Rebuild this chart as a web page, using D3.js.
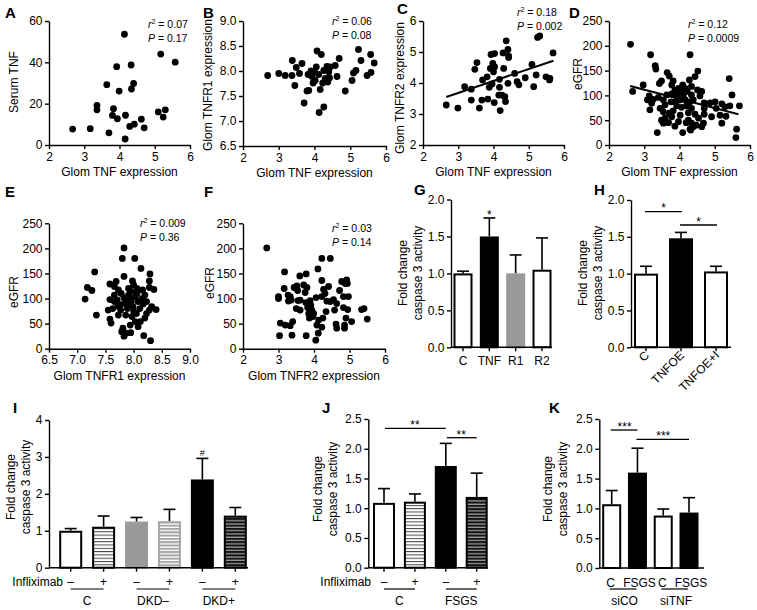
<!DOCTYPE html>
<html><head><meta charset="utf-8">
<script src="https://cdn.jsdelivr.net/npm/d3@7"></script>
<style>body{margin:0;background:#fff}svg text{font-family:"Liberation Sans",Arial,Helvetica,sans-serif;fill:#000}</style>
</head><body><svg id="c" width="757" height="610"></svg>
<script>
// ---------- DATA ----------
const ptsA = [[4.14,53.6],[5.17,44],[5.58,40.1],[3.92,37.9],[4.33,38.7],[4.40,29.8],[3.64,29.2],[3.99,26.1],[4.34,27.1],[3.36,19.2],[3.36,17.0],[3.83,17.6],[3.80,14.3],[3.94,12.7],[4.17,14.4],[4.62,12.5],[4.42,10.1],[4.29,9.0],[4.70,8.3],[5.10,16.0],[5.30,17.0],[5.24,13.5],[2.67,7.7],[3.17,7.9],[3.70,5.9],[4.16,2.9]];
const ptsB = [[2.69,7.91],[3.0,7.95],[3.18,7.91],[3.38,8.21],[3.37,7.91],[3.49,8.07],[3.45,7.71],[3.65,8.15],[3.58,7.95],[3.79,7.6],[3.84,7.61],[3.71,7.36],[3.82,7.93],[3.9,8.0],[3.93,7.89],[4.0,7.98],[4.02,7.81],[4.07,8.4],[4.19,8.33],[4.12,7.93],[4.23,7.76],[4.16,7.63],[4.26,8.01],[4.30,7.85],[4.35,8.09],[4.40,7.98],[4.37,7.78],[4.42,7.86],[4.26,7.28],[4.13,7.17],[4.44,8.08],[4.58,8.11],[4.69,8.25],[4.63,7.89],[4.86,7.6],[5.05,7.81],[5.09,7.96],[5.16,8.01],[5.23,8.43],[5.3,8.21],[5.47,7.91],[5.58,7.97],[5.57,8.33],[5.67,8.16],[3.96,7.76],[4.05,8.08]];
const ptsC = [[2.66,3.29],[2.99,3.19],[3.18,3.88],[3.37,3.80],[3.37,3.45],[3.53,4.66],[3.47,4.44],[3.67,3.45],[3.60,3.19],[3.69,4.10],[3.82,4.20],[3.84,3.48],[3.91,4.47],[3.93,4.92],[4.03,4.95],[3.98,4.63],[4.0,4.36],[4.03,4.52],[3.96,3.97],[4.02,3.37],[4.17,4.12],[4.17,3.86],[4.15,3.61],[4.19,3.11],[4.29,4.47],[4.27,4.97],[4.36,5.36],[4.41,5.08],[4.43,4.87],[4.43,4.82],[4.32,3.56],[4.34,3.40],[4.24,3.61],[4.41,3.99],[4.6,4.31],[4.67,4.04],[4.72,3.94],[4.90,4.17],[5.09,4.6],[5.14,3.88],[5.21,4.26],[5.25,5.47],[5.31,5.52],[5.49,4.2],[5.59,4.1],[5.6,4.15],[5.69,4.97],[3.88,3.86]];
const ptsD = [[2.61,203],[3.18,182],[4.30,182],[3.31,160],[3.33,153],[2.67,108],[2.97,121],[3.43,124],[3.49,129],[3.65,146],[3.71,139],[3.82,129],[3.78,121],[4.52,149],[4.44,138],[4.28,131],[4.09,121],[3.97,114],[3.87,110],[4.02,108],[4.16,114],[4.34,118],[4.22,108],[4.51,111],[4.63,108],[4.58,99],[4.34,101],[4.11,101],[3.92,99],[3.78,103],[3.64,101],[3.54,91],[3.40,96],[3.26,92],[3.14,99],[3.09,91],[3.21,84],[3.16,71],[3.45,74],[3.59,81],[3.76,87],[3.87,87],[4.02,91],[4.16,91],[4.30,87],[4.39,91],[3.92,79],[4.06,76],[4.20,79],[4.34,74],[3.54,67],[3.71,64],[3.82,69],[4.02,60],[4.25,65],[4.44,62],[4.70,85],[4.70,74],[4.87,85],[5.01,87],[5.20,83],[5.29,77],[5.04,74],[5.43,79],[5.41,134],[5.49,101],[5.70,79],[5.62,32],[5.60,15],[5.15,60],[5.32,58],[4.91,57],[4.70,62],[4.54,54],[5.20,44],[4.47,40],[4.63,37],[4.25,50],[4.19,45],[4.34,44],[4.39,37],[4.30,32],[4.09,25],[4.32,30],[3.37,25],[3.49,50],[3.59,54],[3.54,44],[3.78,57],[3.69,45],[3.87,38],[3.97,47],[4.68,44]];
const ptsE = [[7.83,201],[7.80,180],[8.02,180],[8.13,160],[7.31,153],[8.29,149],[8.28,135],[8.28,122],[8.36,118],[7.18,122],[7.26,116],[7.14,99],[7.34,67],[7.58,129],[7.69,134],[7.66,124],[7.83,144],[7.98,135],[8.0,127],[7.91,120],[8.06,120],[8.16,117],[7.95,114],[7.78,110],[7.66,107],[7.58,98],[7.71,97],[7.83,102],[7.91,107],[8.03,104],[8.15,100],[8.20,107],[8.23,94],[8.32,84],[8.40,78],[8.28,77],[8.17,89],[8.08,94],[7.96,94],[7.84,90],[7.72,85],[7.63,80],[7.77,77],[7.89,80],[7.99,84],[8.11,80],[8.23,70],[8.20,61],[8.05,70],[7.97,64],[7.86,67],[7.73,67],[7.58,59],[7.60,51],[8.12,54],[8.03,54],[7.94,47],[7.81,41],[7.87,31],[7.83,25],[7.95,32],[8.18,26],[8.30,16],[8.08,44],[7.79,34],[7.90,90],[7.73,117],[7.55,77],[7.66,94],[8.06,110],[7.85,95],[7.95,100],[7.76,88],[8.0,75]];
const ptsF = [[2.67,201],[3.0,100],[3.0,104],[3.17,153],[3.16,120],[3.03,26],[3.05,51],[3.19,47],[3.33,46],[3.38,27],[3.40,54],[3.27,107],[3.33,104],[3.28,95],[3.36,97],[3.44,122],[3.52,125],[3.54,116],[3.60,145],[3.55,96],[3.61,97],[3.50,80],[3.61,77],[3.71,127],[3.80,122],[3.78,149],[3.75,112],[3.77,92],[3.82,82],[3.89,96],[3.85,70],[3.87,61],[3.91,87],[3.94,77],[3.99,70],[3.97,64],[3.78,26],[4.05,17],[4.12,31],[4.06,102],[4.22,104],[4.11,159],[4.22,180],[4.46,180],[4.22,136],[4.27,118],[4.31,110],[4.41,124],[4.36,95],[4.34,74],[4.22,43],[4.25,61],[4.46,94],[4.55,98],[4.64,90],[4.58,77],[4.62,49],[4.64,41],[4.72,116],[4.78,134],[4.88,130],[4.92,137],[4.94,130],[4.83,104],[4.97,104],[4.83,82],[4.95,78],[4.90,61],[4.86,47],[4.86,41],[5.06,54],[5.34,78],[5.41,80],[5.50,59],[4.08,47],[4.13,57]];
const fitC = [[2.66,3.55],[5.7,4.72]];
const fitD = [[2.6,119],[5.67,62]];
const statsA = ["0.07","0.17"], statsB = ["0.06","0.08"], statsC = ["0.18","0.002"], statsD = ["0.12","0.0009"], statsE = ["0.009","0.36"], statsF = ["0.03","0.14"];
const ticksTNF = [2,3,4,5,6];
const ticksA_y = [0,20,40,60];
const ticksB_y = [6.5,7.0,7.5,8.0,8.5,9.0];
const ticksC_y = [2,3,4,5,6];
const ticksEGFR = [0,50,100,150,200,250];
const ticksE_x = [6.5,7.0,7.5,8.0,8.5,9.0];

const catsG = ["C","TNF","R1","R2"], valsG = [1.0,1.5,1.0,1.05], semG = [0.03,0.25,0.25,0.43];
const catsH = ["C","TNFOE","TNFOE+I"], valsH = [1.0,1.48,1.03], semH = [0.1,0.08,0.07];
const catsI = ["C-","C+","DKD--","DKD-+","DKD+-","DKD++"], valsI = [1.0,1.11,1.25,1.26,2.39,1.41], semI = [0.06,0.29,0.11,0.32,0.57,0.22];
const catsJ = ["C-","C+","FSGS-","FSGS+"], valsJ = [1.09,1.11,1.71,1.19], semJ = [0.24,0.13,0.38,0.40];
const catsK = ["siCO C","siCO FSGS","siTNF C","siTNF FSGS"], valsK = [1.07,1.60,0.88,0.93], semK = [0.23,0.41,0.11,0.25];
const ticks2 = [0,0.5,1.0,1.5,2.0], ticks25 = [0,0.5,1.0,1.5,2.0,2.5], ticks4 = [0,1,2,3,4];
const infl = ["\u2013","+"];
const groupsI = ["C","DKD\u2013","DKD+"], groupsJ = ["C","FSGS"], groupsK = ["siCO","siTNF"];
const xlabK = ["C","FSGS","C","FSGS"];

// ---------- DRAW ----------
const svg = d3.select("#c");
const FONT = '"Liberation Sans",Arial,Helvetica,sans-serif';
const defs = svg.append("defs");
function stripe(id, bg, fg, h, lw){
  const p = defs.append("pattern").attr("id",id).attr("patternUnits","userSpaceOnUse").attr("width",6).attr("height",h);
  p.append("rect").attr("width",6).attr("height",h).attr("fill",bg);
  p.append("rect").attr("y",0).attr("width",6).attr("height",lw).attr("fill",fg);
}
stripe("stW","#fff","#444",3.3,1);
stripe("stG","#fff","#a6a6a6",3.3,2);
stripe("stB","#999","#111",3.3,2);

function styleAxis(g){
  g.selectAll("path,line").attr("stroke","#000").attr("stroke-width",1.4);
  g.selectAll("text").attr("font-size",12).attr("font-family",FONT).attr("fill","#000");
}
function letter(t,x,y){ svg.append("text").attr("x",x).attr("y",y).attr("font-size",15).attr("font-weight","bold").attr("font-family",'"Liberation Sans",Arial,sans-serif').text(t); }
function stat(x,y,s){
  const t1 = svg.append("text").attr("x",x).attr("y",y).attr("font-size",10.5);
  t1.append("tspan").attr("font-style","italic").text("r");
  t1.append("tspan").attr("dy",-4).attr("font-size",7).text("2");
  t1.append("tspan").attr("dy",4).text(" = "+s[0]);
  const t2 = svg.append("text").attr("x",x).attr("y",y+14).attr("font-size",10.5);
  t2.append("tspan").attr("font-style","italic").text("P");
  t2.append("tspan").text(" = "+s[1]);
}
function fmt1(d){ return d3.format(".1f")(d); }
function scatter(o){
  const x = d3.scaleLinear().domain(o.xd).range(o.xr);
  const y = d3.scaleLinear().domain(o.yd).range(o.yr);
  const g = svg.append("g");
  g.append("g").attr("transform",`translate(0,${o.yr[0]})`)
    .call(d3.axisBottom(x).tickValues(o.xt).tickFormat(o.xf||d3.format("d")).tickSize(4).tickSizeOuter(0).tickPadding(3)).call(styleAxis);
  g.append("g").attr("transform",`translate(${o.xr[0]},0)`)
    .call(d3.axisLeft(y).tickValues(o.yt).tickFormat(o.yf||d3.format("d")).tickSize(4).tickSizeOuter(0).tickPadding(2.5)).call(styleAxis);
  g.append("g").selectAll("circle").data(o.data).join("circle")
    .attr("cx",d=>x(d[0])).attr("cy",d=>y(d[1])).attr("r",3.4).attr("fill","#000");
  if(o.fit){
    g.append("line").attr("x1",x(o.fit[0][0])).attr("y1",y(o.fit[0][1])).attr("x2",x(o.fit[1][0])).attr("y2",y(o.fit[1][1]))
     .attr("stroke","#000").attr("stroke-width",2);
  }
  g.append("text").attr("x",(o.xr[0]+o.xr[1])/2).attr("y",o.yr[0]+31).attr("text-anchor","middle").attr("font-size",12).text(o.xl);
  g.append("text").attr("transform",`translate(${o.ylx},${o.yly||(o.yr[0]+o.yr[1])/2}) rotate(-90)`).attr("text-anchor","middle").attr("font-size",12).text(o.yl);
}

scatter({data:ptsA,xd:[2,6],yd:[0,60],xr:[49,190],yr:[145,21],xt:ticksTNF,yt:ticksA_y,xl:"Glom TNF expression",yl:"Serum TNF",ylx:17.5,yly:82});
scatter({data:ptsB,xd:[2,6],yd:[6.5,9],xr:[243,386],yr:[146,21],xt:ticksTNF,yt:ticksB_y,yf:fmt1,xl:"Glom TNF expression",yl:"Glom TNFR1 expression",ylx:212,yly:85});
scatter({data:ptsC,xd:[2,6],yd:[2,6],xr:[423,564],yr:[145,21],xt:ticksTNF,yt:ticksC_y,xl:"Glom TNF expression",yl:"Glom TNFR2 expression",ylx:404,yly:88,fit:fitC});
scatter({data:ptsD,xd:[2,6],yd:[0,250],xr:[609,750],yr:[145,21],xt:ticksTNF,yt:ticksEGFR,xl:"Glom TNF expression",yl:"eGFR",ylx:582,yly:74,fit:fitD});
scatter({data:ptsE,xd:[6.5,9],yd:[0,250],xr:[49,190],yr:[348.7,223.3],xt:ticksE_x,xf:fmt1,yt:ticksEGFR,xl:"Glom TNFR1 expression",yl:"eGFR",ylx:17.5,yly:292});
scatter({data:ptsF,xd:[2,6],yd:[0,250],xr:[243,385],yr:[348.7,223.3],xt:ticksTNF,yt:ticksEGFR,xl:"Glom TNFR2 expression",yl:"eGFR",ylx:214,yly:283});

stat(148,28,statsA); stat(332,25,statsB); stat(517,16,statsC); stat(688,28,statsD); stat(140,227,statsE); stat(332,232,statsF);
letter("A",5,18); letter("B",203,18); letter("C",397,14); letter("D",569,18);
letter("E",5,197); letter("F",204,197); letter("G",414,195); letter("H",594,195);
letter("I",13,413); letter("J",322,413); letter("K",549,413);

function bars(o){
  const x = d3.scalePoint().domain(o.cats).range(o.cr);
  const y = d3.scaleLinear().domain([0,o.ymax]).range(o.yr);
  const g = svg.append("g");
  o.vals.forEach((v,i)=>{
    const cx = x(o.cats[i]);
    g.append("line").attr("x1",cx).attr("x2",cx).attr("y1",y(v)).attr("y2",y(v+o.sem[i])).attr("stroke","#000").attr("stroke-width",1.6);
    g.append("line").attr("x1",cx-6).attr("x2",cx+6).attr("y1",y(v+o.sem[i])).attr("y2",y(v+o.sem[i])).attr("stroke","#000").attr("stroke-width",1.6);
  });
  o.vals.forEach((v,i)=>{
    const cx = x(o.cats[i]), f = o.fills[i], bw = o.bw;
    const r = g.append("rect").attr("x",cx-bw/2+1).attr("width",bw-2).attr("y",y(v)+1).attr("height",y(0)-y(v)-1);
    if(f==="w") r.attr("fill","#fff").attr("stroke","#000").attr("stroke-width",2);
    else if(f==="k") r.attr("fill","#000").attr("stroke","#000").attr("stroke-width",2);
    else if(f==="g") r.attr("fill","#9a9a9a").attr("stroke","#9a9a9a").attr("stroke-width",2);
    else if(f==="sw") r.attr("fill","url(#stW)").attr("stroke","#000").attr("stroke-width",2);
    else if(f==="sg") r.attr("fill","url(#stG)").attr("stroke","#a6a6a6").attr("stroke-width",2);
    else if(f==="sk") r.attr("fill","url(#stB)").attr("stroke","#000").attr("stroke-width",2);
  });
  g.append("g").attr("transform",`translate(${o.ax},0)`)
    .call(d3.axisLeft(y).tickValues(o.yt).tickFormat(o.yf).tickSize(4).tickSizeOuter(0).tickPadding(2.5)).call(styleAxis);
  g.append("line").attr("x1",o.ax).attr("x2",o.axEnd).attr("y1",y(0)).attr("y2",y(0)).attr("stroke","#000").attr("stroke-width",1.4);
  if(o.xticks){
    o.cats.forEach(c=>g.append("line").attr("x1",x(c)).attr("x2",x(c)).attr("y1",y(0)).attr("y2",y(0)+4).attr("stroke","#000").attr("stroke-width",1.4));
  }
  const yl = g.append("text").attr("transform",`translate(${o.ylx},${o.yly}) rotate(-90)`).attr("text-anchor","middle").attr("font-size",12);
  yl.append("tspan").attr("x",0).attr("dy",0).text("Fold change");
  yl.append("tspan").attr("x",0).attr("dy",14.5).text("caspase 3 activity");
  return {x,y,g};
}

// G
(function(){
  const b = bars({cats:catsG,vals:valsG,sem:semG,fills:["w","k","g","w"],cr:[463,542],bw:19,ymax:2,yr:[347.3,199.5],ax:451,axEnd:552,yt:ticks2,yf:fmt1,ylx:407,yly:273,xticks:true});
  catsG.forEach(c=>b.g.append("text").attr("x",b.x(c)).attr("y",365).attr("text-anchor","middle").attr("font-size",12).text(c));
  b.g.append("text").attr("x",b.x("TNF")).attr("y",219).attr("text-anchor","middle").attr("font-size",12).text("*");
})();
// H
(function(){
  const b = bars({cats:catsH,vals:valsH,sem:semH,fills:["w","k","w"],cr:[646,716],bw:24,ymax:2,yr:[347.3,200],ax:631,axEnd:731,yt:ticks2,yf:fmt1,ylx:587,yly:273,xticks:true});
  catsH.forEach(c=>b.g.append("text").attr("transform",`translate(${b.x(c)+4},${356}) rotate(-45)`).attr("text-anchor","end").attr("font-size",12).text(c));
  const sig=(a,c,yy)=>{b.g.append("line").attr("x1",b.x(a)-1).attr("x2",b.x(c)+1).attr("y1",yy).attr("y2",yy).attr("stroke","#000").attr("stroke-width",1.3);
    b.g.append("text").attr("x",(b.x(a)+b.x(c))/2).attr("y",yy+0.5).attr("text-anchor","middle").attr("font-size",12).text("*");};
  sig("C","TNFOE",211.7); sig("TNFOE","TNFOE+I",225);
})();
// I
(function(){
  const b = bars({cats:catsI,vals:valsI,sem:semI,fills:["w","sw","g","sg","k","sk"],cr:[70.7,235.3],bw:23,ymax:4,yr:[567.7,420],ax:49,axEnd:248,yt:ticks4,yf:d3.format("d"),ylx:15,yly:487,xticks:true});
  b.g.append("text").attr("x",63).attr("y",586).attr("text-anchor","end").attr("font-size",12).text("Infliximab");
  catsI.forEach((c,i)=>b.g.append("text").attr("x",b.x(c)).attr("y",586).attr("text-anchor","middle").attr("font-size",12).text(infl[i%2]));
  groupsI.forEach((gname,k)=>{
    const a=b.x(catsI[2*k]), c=b.x(catsI[2*k+1]);
    b.g.append("line").attr("x1",a).attr("x2",c).attr("y1",589).attr("y2",589).attr("stroke","#000").attr("stroke-width",1.2);
    b.g.append("text").attr("x",(a+c)/2).attr("y",605).attr("text-anchor","middle").attr("font-size",12).text(gname);
  });
  b.g.append("text").attr("x",b.x("DKD+-")).attr("y",456).attr("text-anchor","middle").attr("font-size",9).text("#");
})();
// J
(function(){
  const b = bars({cats:catsJ,vals:valsJ,sem:semJ,fills:["w","sw","k","sk"],cr:[384,476.7],bw:22,ymax:2.5,yr:[567.7,419],ax:368.3,axEnd:488,yt:ticks25,yf:fmt1,ylx:322,yly:489,xticks:true});
  b.g.append("text").attr("x",371).attr("y",586).attr("text-anchor","end").attr("font-size",12).text("Infliximab");
  catsJ.forEach((c,i)=>b.g.append("text").attr("x",b.x(c)).attr("y",586).attr("text-anchor","middle").attr("font-size",12).text(infl[i%2]));
  groupsJ.forEach((gname,k)=>{
    const a=b.x(catsJ[2*k]), c=b.x(catsJ[2*k+1]);
    b.g.append("line").attr("x1",a).attr("x2",c).attr("y1",589).attr("y2",589).attr("stroke","#000").attr("stroke-width",1.2);
    b.g.append("text").attr("x",(a+c)/2).attr("y",605).attr("text-anchor","middle").attr("font-size",12).text(gname);
  });
  const sig=(a,c,yy,tx)=>{b.g.append("line").attr("x1",b.x(a)+1).attr("x2",b.x(c)).attr("y1",yy).attr("y2",yy).attr("stroke","#000").attr("stroke-width",1.3);
    b.g.append("text").attr("x",tx).attr("y",yy+1).attr("text-anchor","middle").attr("font-size",12).text("**");};
  sig("C-","FSGS-",428.3,(b.x("C-")+b.x("FSGS-"))/2); sig("FSGS-","FSGS+",437.7,(b.x("FSGS-")+b.x("FSGS+"))/2);
})();
// K
(function(){
  const b = bars({cats:catsK,vals:valsK,sem:semK,fills:["w","k","w","k"],cr:[611.7,689],bw:19,ymax:2.5,yr:[568,419],ax:599.3,axEnd:704,yt:ticks25,yf:fmt1,ylx:552,yly:489,xticks:false});
  catsK.forEach((c,i)=>b.g.append("text").attr("x",b.x(c)+(i%2?2:-1)).attr("y",587).attr("text-anchor","middle").attr("font-size",12).text(xlabK[i]));
  groupsK.forEach((gname,k)=>{
    const a=b.x(catsK[2*k]), c=b.x(catsK[2*k+1]);
    b.g.append("line").attr("x1",a-2).attr("x2",c-1).attr("y1",589).attr("y2",589).attr("stroke","#000").attr("stroke-width",1.2);
    b.g.append("text").attr("x",(a+c)/2).attr("y",605).attr("text-anchor","middle").attr("font-size",12).text(gname);
  });
  const sig=(a,c,yy)=>{b.g.append("line").attr("x1",b.x(a)-1).attr("x2",b.x(c)).attr("y1",yy).attr("y2",yy).attr("stroke","#000").attr("stroke-width",1.3);
    b.g.append("text").attr("x",(b.x(a)+b.x(c))/2).attr("y",yy+1).attr("text-anchor","middle").attr("font-size",12).text("***");};
  sig("siCO C","siCO FSGS",430); sig("siCO FSGS","siTNF FSGS",439.3);
})();
</script></body></html>
